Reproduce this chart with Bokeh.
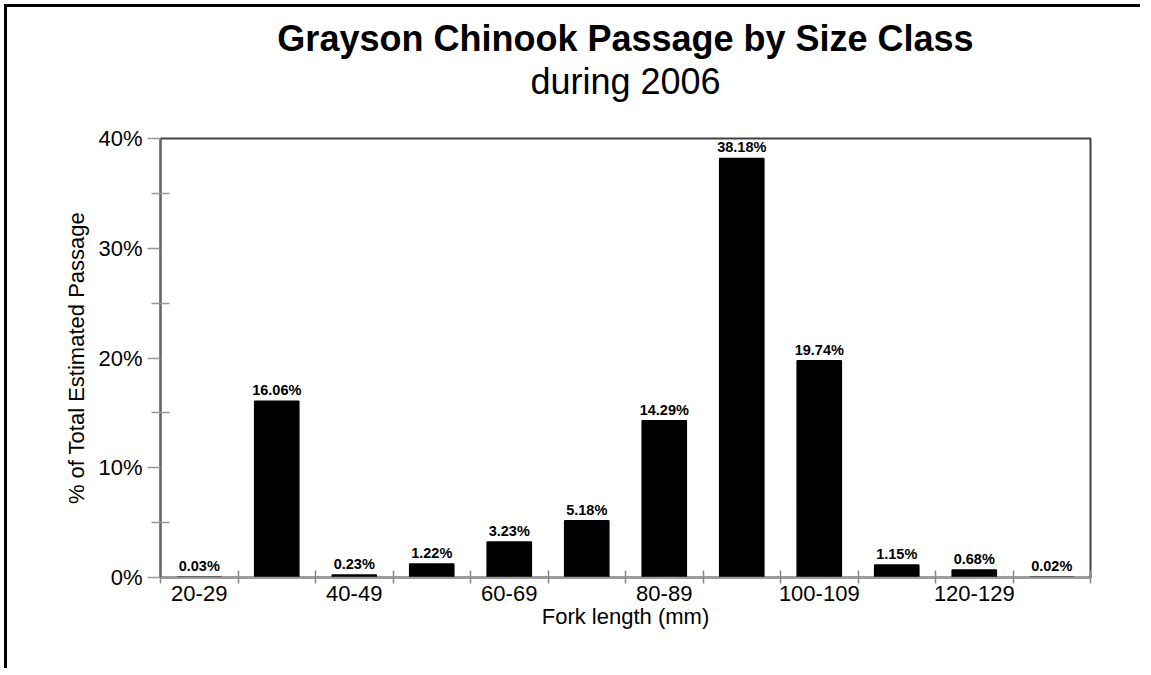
from bokeh.plotting import figure
from bokeh.models import (FixedTicker, PrintfTickFormatter, Title, ColumnDataSource,
                          LabelSet, Range1d)
from bokeh.core.properties import value
from bokeh.embed import file_html
from bokeh.resources import INLINE

categories = ["20-29", "30-39", "40-49", "50-59", "60-69", "70-79",
              "80-89", "90-99", "100-109", "110-119", "120-129", "130-139"]
values = [0.03, 16.06, 0.23, 1.22, 3.23, 5.18, 14.29, 38.18, 19.74, 1.15, 0.68, 0.02]
labels = ["0.03%", "16.06%", "0.23%", "1.22%", "3.23%", "5.18%", "14.29%",
          "38.18%", "19.74%", "1.15%", "0.68%", "0.02%"]
shown_tick_labels = ["20-29", "40-49", "60-69", "80-89", "100-109", "120-129"]
y_major = [0, 10, 20, 30, 40]
y_minor = [5, 15, 25, 35]

FONT = "Liberation Sans"

xc = [i + 0.5 for i in range(len(categories))]
src = ColumnDataSource(dict(x=xc, top=values, label=labels))

p = figure(width=1136, height=664, output_backend="svg", toolbar_location=None,
           x_range=Range1d(0, len(categories)), y_range=Range1d(0, 40),
           min_border_left=153, min_border_right=53, min_border_top=131,
           min_border_bottom=94)
p.styles = {"border-left": "3px solid black", "border-top": "3px solid black",
            "margin-left": "4px", "margin-top": "4px"}

p.vbar(x="x", top="top", width=0.57, bottom=0, source=src,
       fill_color="black", line_color="black", line_width=1.5)

p.add_layout(LabelSet(x="x", y="top", text="label", source=src, y_offset=3,
                      text_align="center", text_baseline="bottom",
                      text_font=value(FONT), text_font_style="bold",
                      text_font_size="14.5px", text_color="black"))

p.xgrid.visible = False
p.ygrid.visible = False
p.outline_line_color = "#404040"
p.outline_line_width = 2
p.background_fill_color = "white"
p.border_fill_color = "white"

# x axis
xa = p.xaxis[0]
label_pos = [xc[categories.index(c)] for c in shown_tick_labels]
xa.ticker = FixedTicker(ticks=label_pos, minor_ticks=list(range(len(categories) + 1)))
xa.major_label_overrides = {pos: c for pos, c in zip(label_pos, shown_tick_labels)}
xa.major_tick_in = 0
xa.major_tick_out = 0
xa.minor_tick_in = 7
xa.minor_tick_out = 6
xa.minor_tick_line_color = "#888888"
xa.minor_tick_line_width = 1.5
xa.axis_line_color = "#999999"
xa.axis_line_width = 1.5
xa.major_label_standoff = 2
xa.major_label_text_font = FONT
xa.major_label_text_font_size = "22px"
xa.major_label_text_color = "black"
xa.axis_label = "Fork length (mm)"
xa.axis_label_text_font = FONT
xa.axis_label_text_font_size = "22px"
xa.axis_label_text_font_style = "normal"
xa.axis_label_text_color = "black"
xa.axis_label_standoff = 0

# y axis
ya = p.yaxis[0]
ya.ticker = FixedTicker(ticks=y_major, minor_ticks=y_minor)
ya.formatter = PrintfTickFormatter(format="%d%%")
ya.major_tick_in = 0
ya.major_tick_out = 13
ya.minor_tick_in = 9
ya.minor_tick_out = 9
ya.major_tick_line_color = "#999999"
ya.minor_tick_line_color = "#999999"
ya.major_tick_line_width = 1.5
ya.minor_tick_line_width = 1.5
ya.axis_line_color = "#666666"
ya.axis_line_width = 2
ya.major_label_standoff = 5
ya.major_label_text_font = FONT
ya.major_label_text_font_size = "22px"
ya.major_label_text_color = "black"
ya.axis_label = "% of Total Estimated Passage"
ya.axis_label_text_font = FONT
ya.axis_label_text_font_size = "22px"
ya.axis_label_text_font_style = "normal"
ya.axis_label_text_color = "black"
ya.axis_label_standoff = 6

p.add_layout(Title(text=" ", text_font_size="31px", standoff=0), "above")
p.add_layout(Title(text="during 2006", align="center", offset=-40,
                   text_font=FONT, text_font_size="36px",
                   text_font_style="normal", text_color="black", standoff=0), "above")
p.add_layout(Title(text="Grayson Chinook Passage by Size Class", align="center", offset=-40,
                   text_font=FONT, text_font_size="36px",
                   text_font_style="bold", text_color="black", standoff=0), "above")

open("out.html", "w").write(file_html(p, INLINE))
